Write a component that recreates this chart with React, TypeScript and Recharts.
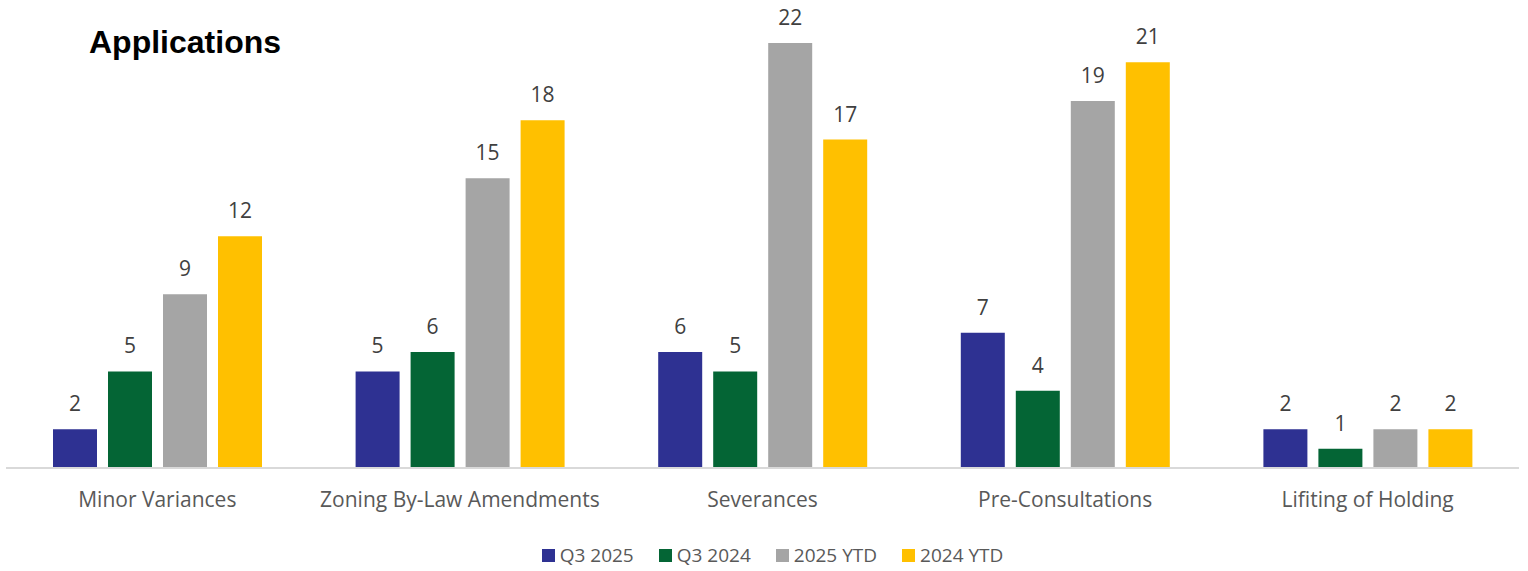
import { BarChart, Bar, XAxis, YAxis, LabelList, Legend } from 'recharts'

const CATEGORIES = [
  'Minor Variances',
  'Zoning By-Law Amendments',
  'Severances',
  'Pre-Consultations',
  'Lifiting of Holding',
]
const Q3_2025 = [2, 5, 6, 7, 2]
const Q3_2024 = [5, 6, 5, 4, 1]
const YTD_2025 = [9, 15, 22, 19, 2]
const YTD_2024 = [12, 18, 17, 21, 2]

const SERIES = [
  { key: 'q32025', name: 'Q3 2025', color: '#2e3192' },
  { key: 'q32024', name: 'Q3 2024', color: '#046535' },
  { key: 'ytd2025', name: '2025 YTD', color: '#a5a5a5' },
  { key: 'ytd2024', name: '2024 YTD', color: '#ffc000' },
]

const data = CATEGORIES.map((name, i) => ({
  name,
  q32025: Q3_2025[i],
  q32024: Q3_2024[i],
  ytd2025: YTD_2025[i],
  ytd2024: YTD_2024[i],
}))

const FONT = "'Open Sans', sans-serif"

function LegendRow() {
  return (
    <div
      style={{
        display: 'flex',
        justifyContent: 'center',
        gap: 25,
        paddingTop: 14,
        paddingLeft: 20,
        fontFamily: FONT,
        fontSize: 19,
        color: '#595959',
      }}
    >
      {SERIES.map((s) => (
        <div key={s.key} style={{ display: 'flex', alignItems: 'center', gap: 5 }}>
          <span style={{ width: 13, height: 13, background: s.color, display: 'inline-block' }} />
          <span>{s.name}</span>
        </div>
      ))}
    </div>
  )
}

export default function App() {
  return (
    <div style={{ position: 'absolute', left: 0, top: 0, width: 1528, height: 571, background: '#fff' }}>
      <div
        style={{
          position: 'absolute',
          left: 89,
          top: 26,
          fontFamily: "'Liberation Sans', Arial, sans-serif",
          fontWeight: 700,
          fontSize: 32,
          color: '#000',
          lineHeight: 1,
          zIndex: 1,
        }}
      >
        Applications
      </div>
      <BarChart
        width={1528}
        height={571}
        data={data}
        margin={{ top: 43, right: 9, bottom: 0, left: 6 }}
        barSize={44}
        barGap={11}
      >
        <YAxis hide domain={[0, 22]} />
        <XAxis
          dataKey="name"
          height={60}
          tickLine={false}
          axisLine={{ stroke: '#d9d9d9', strokeWidth: 2 }}
          tick={{ fill: '#595959', fontSize: 21, fontFamily: FONT }}
          tickMargin={18}
          interval={0}
        />
        <Legend verticalAlign="bottom" height={43} content={() => <LegendRow />} />
        {SERIES.map((s) => (
          <Bar key={s.key} dataKey={s.key} name={s.name} fill={s.color} isAnimationActive={false}>
            <LabelList
              dataKey={s.key}
              position="top"
              offset={18}
              style={{ fill: '#404040', fontSize: 21, fontFamily: FONT }}
            />
          </Bar>
        ))}
      </BarChart>
    </div>
  )
}
